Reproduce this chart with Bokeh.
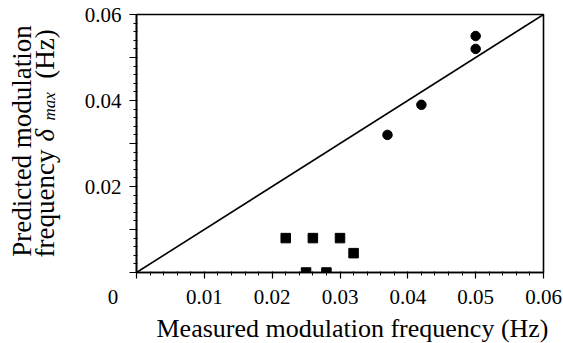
import math
from bokeh.plotting import figure
from bokeh.models import Range1d, FixedTicker, Label, Title
from bokeh.layouts import row
from bokeh.embed import file_html
from bokeh.resources import INLINE

# ---- data ----
measured_circle = [0.037, 0.042, 0.050, 0.050]
predicted_circle = [0.032, 0.039, 0.052, 0.055]
measured_square = [0.022, 0.026, 0.030, 0.032, 0.025, 0.028]
predicted_square = [0.008, 0.008, 0.008, 0.0045, 0.0, 0.0]
identity_x = [0.0, 0.06]
identity_y = [0.0, 0.06]

x_ticks = [0.0, 0.01, 0.02, 0.03, 0.04, 0.05, 0.06]
x_tick_labels = ["0" + "\u00a0" * 9, "0.01", "0.02", "0.03", "0.04", "0.05", "0.06"]
y_ticks = [0.0, 0.01, 0.02, 0.03, 0.04, 0.05, 0.06]
y_tick_labels = ["", "", "0.02", "", "0.04", "", "0.06"]
minor = [i * 0.002 for i in range(31)]

FONT = "'Liberation Serif', 'Times New Roman', serif"
W, H = 563, 343
LW = 70                      # width of the strip holding the y title
L, R, T, B = 136, 20, 14, 71
XMAX, YMAX = 0.06, 0.06
FRAME_BOTTOM = H - B

# ---------- main plot ----------
p = figure(width=W - LW, height=H, output_backend="svg", toolbar_location=None,
           x_range=Range1d(0, XMAX), y_range=Range1d(0, YMAX))
p.min_border_left = L - LW
p.min_border_right = R
p.min_border_top = T
p.min_border_bottom = B
p.grid.visible = False
p.outline_line_color = "black"
p.outline_line_width = 1.6
p.background_fill_color = "white"
p.border_fill_color = "white"

xa = p.xaxis[0]
xa.ticker = FixedTicker(ticks=x_ticks, minor_ticks=minor)
xa.major_label_overrides = {t: s for t, s in zip(x_ticks, x_tick_labels)}
ya = p.yaxis[0]
ya.ticker = FixedTicker(ticks=y_ticks, minor_ticks=minor)
ya.major_label_overrides = {t: s for t, s in zip(y_ticks, y_tick_labels)}

for ax in (xa, ya):
    ax.axis_line_width = 1.6
    ax.axis_line_color = "black"
    ax.major_tick_line_color = "black"
    ax.minor_tick_line_color = "black"
    ax.major_tick_line_width = 1.2
    ax.minor_tick_line_width = 1.0
    ax.major_label_text_font = FONT
    ax.major_label_text_font_size = "21px"
    ax.major_label_text_color = "black"
    ax.minor_tick_in = 1
    ax.minor_tick_out = 3
    ax.major_tick_in = 0

xa.major_tick_out = 6
xa.major_label_standoff = 6
ya.major_tick_out = 7
ya.major_label_standoff = 8

p.line(identity_x, identity_y, line_color="black", line_width=1.6)
p.scatter(measured_circle, predicted_circle, marker="circle", size=9.5,
          fill_color="black", line_color="black")
p.scatter(measured_square, predicted_square, marker="square", size=9.5,
          fill_color="black", line_color="black")

xtitle = Title(text="Measured modulation frequency (Hz)", align="left", offset=20,
               text_font=FONT, text_font_size="26px", text_font_style="normal",
               text_color="black", standoff=0)
p.add_layout(xtitle, "below")

# ---------- y title strip ----------
s = figure(width=LW, height=H, output_backend="svg", toolbar_location=None,
           x_range=Range1d(0, 1), y_range=Range1d(0, 1),
           x_axis_location=None, y_axis_location=None)
s.min_border_left = 0
s.min_border_right = 0
s.min_border_top = T
s.min_border_bottom = B
s.grid.visible = False
s.outline_line_color = None
s.border_fill_color = "white"
s.background_fill_color = "white"


def lab(x, y, text, size="27px", angle=math.pi / 2, align="center",
        baseline="alphabetic", style="normal"):
    # screen units are measured from the bottom-left of the frame
    s.add_layout(Label(x=x, y=FRAME_BOTTOM - y, x_units="screen", y_units="screen",
                       text=text, angle=angle, text_font=FONT,
                       text_font_size=size, text_font_style=style,
                       text_align=align, text_baseline=baseline,
                       text_color="black"))


lab(21, 140.5, "Predicted modulation")
lab(44, 257, "frequency ", align="left")
lab(44, 141, "δ", align="left", style="italic")
lab(49, 120, "max", size="17px", align="left", style="italic")
lab(44, 53.5, "(Hz)")

layout = row(s, p, spacing=0)
open("out.html", "w").write(file_html(layout, INLINE))
